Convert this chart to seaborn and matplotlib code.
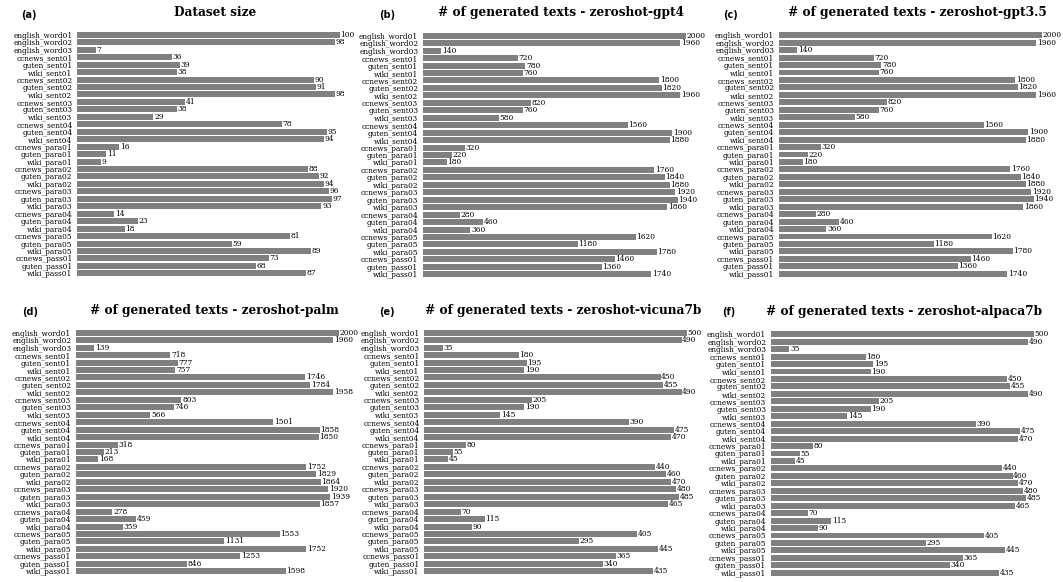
import matplotlib
matplotlib.use('Agg')
import matplotlib.pyplot as plt
import seaborn as sns

# categories (same order in every panel)
datasets = ['english_word01', 'english_word02', 'english_word03',
            'ccnews_sent01', 'guten_sent01', 'wiki_sent01',
            'ccnews_sent02', 'guten_sent02', 'wiki_sent02',
            'ccnews_sent03', 'guten_sent03', 'wiki_sent03',
            'ccnews_sent04', 'guten_sent04', 'wiki_sent04',
            'ccnews_para01', 'guten_para01', 'wiki_para01',
            'ccnews_para02', 'guten_para02', 'wiki_para02',
            'ccnews_para03', 'guten_para03', 'wiki_para03',
            'ccnews_para04', 'guten_para04', 'wiki_para04',
            'ccnews_para05', 'guten_para05', 'wiki_para05',
            'ccnews_pass01', 'guten_pass01', 'wiki_pass01']

dataset_size = [100, 98, 7, 36, 39, 38, 90, 91, 98, 41, 38, 29, 78, 95, 94,
                16, 11, 9, 88, 92, 94, 96, 97, 93, 14, 23, 18, 81, 59, 89,
                73, 68, 87]
gpt4 = [2000, 1960, 140, 720, 780, 760, 1800, 1820, 1960, 820, 760, 580,
        1560, 1900, 1880, 320, 220, 180, 1760, 1840, 1880, 1920, 1940, 1860,
        280, 460, 360, 1620, 1180, 1780, 1460, 1360, 1740]
gpt35 = [2000, 1960, 140, 720, 780, 760, 1800, 1820, 1960, 820, 760, 580,
         1560, 1900, 1880, 320, 220, 180, 1760, 1840, 1880, 1920, 1940, 1860,
         280, 460, 360, 1620, 1180, 1780, 1460, 1360, 1740]
palm = [2000, 1960, 139, 718, 777, 757, 1746, 1784, 1958, 803, 746, 566,
        1501, 1858, 1850, 318, 213, 168, 1752, 1829, 1864, 1920, 1939, 1857,
        278, 459, 359, 1553, 1131, 1752, 1253, 846, 1598]
vicuna7b = [500, 490, 35, 180, 195, 190, 450, 455, 490, 205, 190, 145,
            390, 475, 470, 80, 55, 45, 440, 460, 470, 480, 485, 465,
            70, 115, 90, 405, 295, 445, 365, 340, 435]
alpaca7b = [500, 490, 35, 180, 195, 190, 450, 455, 490, 205, 190, 145,
            390, 475, 470, 80, 55, 45, 440, 460, 470, 480, 485, 465,
            70, 115, 90, 405, 295, 445, 365, 340, 435]

titles = ['Dataset size',
          '# of generated texts - zeroshot-gpt4',
          '# of generated texts - zeroshot-gpt3.5',
          '# of generated texts - zeroshot-palm',
          '# of generated texts - zeroshot-vicuna7b',
          '# of generated texts - zeroshot-alpaca7b']
letters = ['(a)', '(b)', '(c)', '(d)', '(e)', '(f)']
series = [dataset_size, gpt4, gpt35, palm, vicuna7b, alpaca7b]

W, H = 1063, 582
fig = plt.figure(figsize=(W / 100, H / 100), dpi=100)

# panel placement in pixels: axes left, axes top, title centre x/y, letter x/y
panels = [
    (77.3, 31.1, 215, 12.5, 29, 14.5),
    (423.0, 32.0, 561, 12.5, 387, 14.5),
    (779.0, 31.5, 917, 12.5, 730, 14.5),
    (76.0, 329.0, 214, 310.5, 30, 312),
    (424.3, 329.0, 563, 310.5, 387, 312),
    (771.0, 330.5, 904, 312.0, 729, 312),
]
ax_w, ax_h = 262.5, 246.0

for vals, title, letter, (x0, y0, tx, ty, lx, ly) in zip(series, titles, letters, panels):
    ax = fig.add_axes([x0 / W, 1 - (y0 + ax_h) / H, ax_w / W, ax_h / H])
    sns.barplot(x=vals, y=datasets, ax=ax, color='#808080', orient='h',
                width=0.8, saturation=1)
    ax.bar_label(ax.containers[0], padding=0.5, fontsize=5.4,
                 family='DejaVu Serif')
    ax.set_xlim(0, max(vals))
    ax.set_xticks([])
    ax.set_xlabel('')
    ax.set_ylabel('')
    ax.tick_params(axis='y', length=0, labelsize=5.3)
    for lab in ax.get_yticklabels():
        lab.set_family('DejaVu Serif')
    sns.despine(ax=ax, left=True, bottom=True, top=True, right=True)

    fig.text(tx / W, 1 - ty / H, title, ha='center', va='center',
             fontsize=8.7, fontweight='bold', family='DejaVu Serif')
    fig.text(lx / W, 1 - ly / H, letter, ha='center', va='center',
             fontsize=7, fontweight='bold', family='DejaVu Sans')

plt.savefig('out.png', dpi=100)
plt.close()
